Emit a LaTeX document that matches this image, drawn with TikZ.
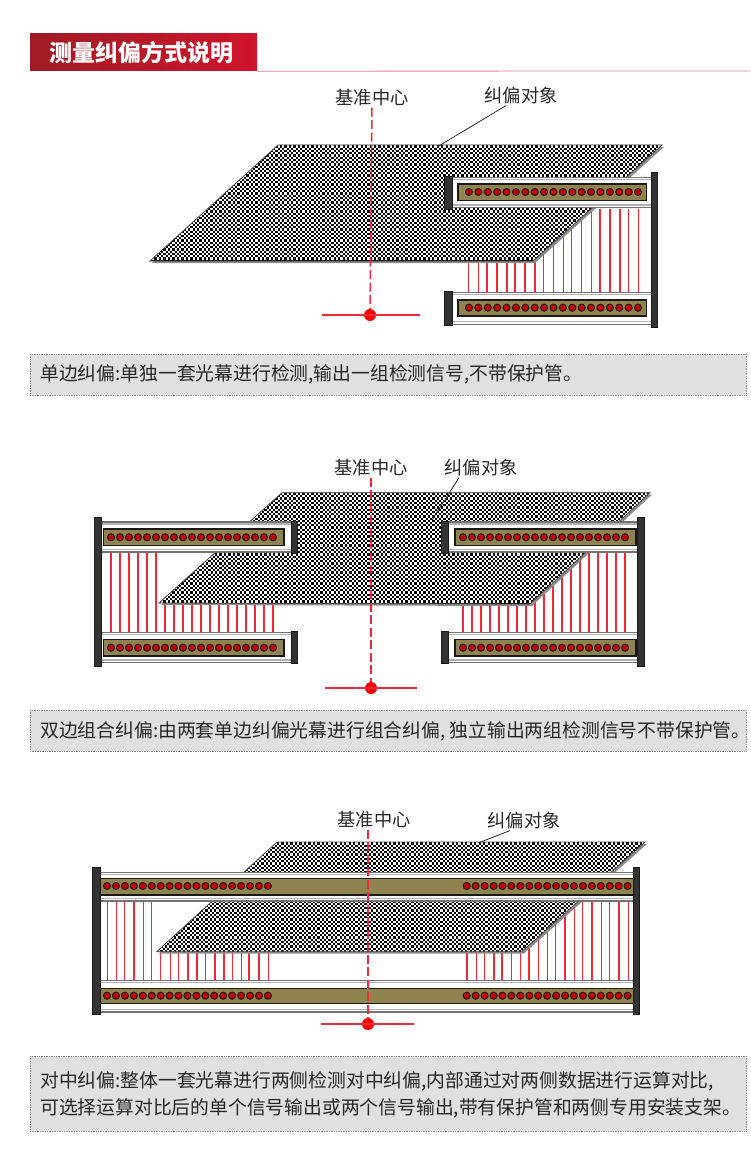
\documentclass[tikz,border=0pt]{standalone}
\usepackage{fontspec}
\newfontfamily\cjk{Noto Sans CJK SC}
\usetikzlibrary{shapes}
\definecolor{titlel}{HTML}{A01C24}
\definecolor{titler}{HTML}{D0142C}
\definecolor{olivebar}{HTML}{8F8350}
\definecolor{lamp}{HTML}{C80008}
\definecolor{lampring}{HTML}{2A1A10}
\definecolor{ray}{HTML}{F02838}
\definecolor{notegray}{HTML}{DFE0DF}
\definecolor{inkgray}{HTML}{262626}
\tikzstyle{titlebox}=[left color=titlel,right color=titler,minimum width=227pt,minimum height=37pt,inner sep=0pt,text=white,font=\cjk\bfseries\fontsize{23}{24}\selectfont]
\tikzstyle{mark label}=[inner sep=1pt,text=inkgray,font=\cjk\fontsize{18.2}{20}\selectfont]
\tikzstyle{note}=[anchor=west,inner sep=0pt,align=left,text=inkgray,font=\cjk\fontsize{18.8}{26.5}\selectfont]
\tikzstyle{notebox}=[fill=notegray,draw=black!45,densely dotted,line width=0.7pt]
\tikzstyle{centerline}=[ray,line width=1.5pt,dash pattern=on 9pt off 3.5pt]
\tikzstyle{baseline}=[ray,line width=1.5pt]
\tikzstyle{reddot}=[circle,fill=red,minimum size=12pt,inner sep=0pt]
\tikzstyle{lead}=[inkgray,line width=0.8pt]
\tikzstyle{raybeam}=[ray,line width=1.5pt]
\tikzstyle{postbar}=[fill=black!80,draw=black!90,line width=0.6pt]
\newcommand{\checkobj}[5]{%
    \fill[black!45] [shift={(2,2)}] #1;
    \begin{scope}
        \clip #1;
        \fill[black] #1;
        \foreach \yy [count=\n] in {#2,#3,...,#4} {
            \pgfmathsetmacro\ph{mod(\n,2)*2.24}
            \draw[white,line width=2.24pt,dash pattern=on 2.24pt off 2.24pt,dash phase=\ph pt] (#5,\yy) -- (680,\yy);
        }
    \end{scope}
    \draw[black!70,line width=0.8pt] #1;
}
\newcommand{\railbar}[4]{%
    \fill[white] (#1,#3) rectangle (#2,#4);
    \draw[black!55,line width=1.5pt] (#1,#3+0.7) -- (#2,#3+0.7);
    \draw[black!30,line width=1.3pt] (#1,#3+2.8) -- (#2,#3+2.8);
    \draw[black!30,line width=1.3pt] (#1,#4-3.2) -- (#2,#4-3.2);
    \draw[black!55,line width=1.5pt] (#1,#4-0.7) -- (#2,#4-0.7);
}
\newcommand{\ledbox}[4]{%
    \draw[fill=olivebar,draw=black!90,line width=1.3pt] (#1,#3) rectangle (#2,#4);
}
\newcommand{\ledrow}[3]{%
    \foreach \i in {0,...,18} {
        \fill[lampring] (#1+\i*#2,#3) circle (4.1);
        \fill[lamp] (#1+\i*#2,#3) circle (2.8);
    }
}
\begin{document}
\begin{tikzpicture}[x=1pt,y=-1pt]
    \useasboundingbox (0,0) rectangle (750,1161);
    \node[titlebox] (title) at (143.5,52.5) {\hspace*{-5pt}测量纠偏方式说明};
    \coordinate (ruleend) at (750,71);
    \draw[titler!55,line width=0.8pt] (title.south east) -- (ruleend);

    % first curtain
    \foreach \x in {468.3,478.3,487,497,507,515,525,535,543.3,553.3,563.3,571.7,581.7,591.7,600,610,620,628.3,638.3}
        \draw[raybeam] (\x,209) -- (\x,292);
    \checkobj{(278,145) -- (662,145) -- (533,261) -- (150,261) -- cycle}{146.5}{148.74}{260}{150}
    \railbar{452}{651}{176.7}{208.3}
    \railbar{452}{651}{291.7}{325}
    \ledbox{458}{646.7}{184}{200.7}
    \ledbox{458}{646.7}{300}{316}
    \ledrow{469}{9.39}{192}
    \ledrow{469}{9.39}{307.7}
    \fill[postbar] (444,176) rectangle (452,209);
    \fill[postbar] (444,291) rectangle (452,325.5);
    \fill[postbar] (651,172.7) rectangle (657,327);
    \node[mark label] (baseA) at (372,98) {基准中心};
    \node[mark label] (objA) at (521,96) {纠偏对象};
    \node[reddot] (dotA) at (370,315) {};
    \coordinate (leftA) at (322,315);
    \coordinate (rightA) at (420,315);
    \coordinate (tipA) at (437,147);
    \draw[baseline] (leftA) -- (rightA);
    \draw[centerline] (baseA.south) -- (dotA);
    \draw[lead] ([xshift=-15pt]objA.south) -- (tipA);
    \draw[notebox] (30,354) rectangle (746,395);
    \node[note] (noteA) at (40,374.5) {单边纠偏:单独一套光幕进行检测,输出一组检测信号,不带保护管。};

    % second curtain
    \foreach \x in {111,120,129,138,147,156}
        \draw[raybeam] (\x,552) -- (\x,632);
    \foreach \x in {165,174,...,273}
        \draw[raybeam] (\x,605) -- (\x,632);
    \foreach \x in {463,472,...,625}
        \draw[raybeam] (\x,552) -- (\x,632);
    \checkobj{(282,492.7) -- (650,492.7) -- (530,604) -- (159,603) -- cycle}{494}{496.24}{603}{159}
    \railbar{101.7}{291}{521.3}{552.7}
    \railbar{101.7}{291}{631.7}{663.3}
    \railbar{448}{637}{521.3}{552.7}
    \railbar{448}{637}{631.7}{663.3}
    \ledbox{103.3}{284}{529}{545.3}
    \ledbox{103.3}{284}{639.7}{656}
    \ledbox{455}{636}{529}{545.3}
    \ledbox{455}{636}{639.7}{656}
    \ledrow{111}{9}{537.3}
    \ledrow{111}{9}{647.7}
    \ledrow{463}{9}{537.3}
    \ledrow{463}{9}{647.7}
    \fill[postbar] (291,521) rectangle (297,553);
    \fill[postbar] (291,631.5) rectangle (297,663.5);
    \fill[postbar] (441,521) rectangle (448,553);
    \fill[postbar] (441,631.5) rectangle (448,663.5);
    \fill[postbar] (94.7,517.7) rectangle (101.7,666);
    \fill[postbar] (637,517.7) rectangle (644,666);
    \node[mark label] (baseB) at (371,468) {基准中心};
    \node[mark label] (objB) at (481,468) {纠偏对象};
    \node[reddot] (dotB) at (371,688) {};
    \coordinate (leftB) at (325,688);
    \coordinate (rightB) at (417,688);
    \coordinate (tipB) at (432,520);
    \draw[baseline] (leftB) -- (rightB);
    \draw[centerline] (baseB.south) -- (dotB);
    \draw[lead] ([xshift=-22pt]objB.south) -- (tipB);
    \draw[notebox] (30,710) rectangle (746,751);
    \node[note] (noteB) at (40,731) {双边组合纠偏:由两套单边纠偏光幕进行组合纠偏, 独立输出两组检测信号不带保护管。};

    % third curtain
    \foreach \x in {107.3,116.7,124.7,134,143.3,151.3}
        \draw[raybeam] (\x,901) -- (\x,981);
    \foreach \x in {160.7,170.3,178.3,188,197,205.3,215,224,232.3,241.7,249,259,268.3}
        \draw[raybeam] (\x,952) -- (\x,981);
    \foreach \x in {467,476.7,484.7,494,502,511.7,520.7,529,538.3,547.7,555.7,565,574.3,582.7,592,601.7,609.7,619,628.3}
        \draw[raybeam] (\x,901) -- (\x,981);
    \checkobj{(277,842) -- (645,842) -- (521.7,951.7) -- (156.7,951.7) -- cycle}{843.4}{845.64}{951}{156}
    \railbar{100}{633.3}{871.7}{901.7}
    \railbar{100}{633.3}{980}{1012.7}
    \ledbox{100}{633.3}{878.3}{895}
    \ledbox{100}{633.3}{988.3}{1003.3}
    \ledrow{107}{8.94}{886}
    \ledrow{107}{8.94}{995.7}
    \ledrow{466.7}{8.94}{886}
    \ledrow{466.7}{8.94}{995.7}
    \fill[postbar] (92,867) rectangle (100,1014);
    \fill[postbar] (633.3,867) rectangle (639.3,1014);
    \node[mark label] (baseC) at (374,820) {基准中心};
    \node[mark label] (objC) at (524,821) {纠偏对象};
    \node[reddot] (dotC) at (368,1024) {};
    \coordinate (leftC) at (321,1024);
    \coordinate (rightC) at (414,1024);
    \coordinate (tipC) at (478,843);
    \draw[baseline] (leftC) -- (rightC);
    \draw[centerline] ([xshift=-6pt]baseC.south) -- (dotC);
    \draw[lead] ([xshift=-14pt]objC.south) -- (tipC);
    \draw[notebox] (30,1056) rectangle (746,1131);
    \node[note] (noteC) at (40,1095) {对中纠偏:整体一套光幕进行两侧检测对中纠偏,内部通过对两侧数据进行运算对比,\\可选择运算对比后的单个信号输出或两个信号输出,带有保护管和两侧专用安装支架。};
\end{tikzpicture}
\end{document}
